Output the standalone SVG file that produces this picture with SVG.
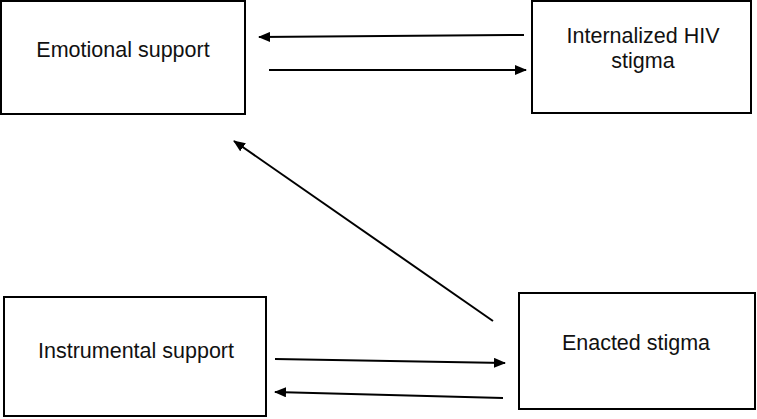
<svg xmlns="http://www.w3.org/2000/svg" width="757" height="419" viewBox="0 0 757 419">
<style>
.box{fill:#fff;stroke:#000;stroke-width:2}
.lbl{font-family:"Liberation Sans",Arial,sans-serif;font-size:21.5px;fill:#111;text-anchor:middle}
.arr{stroke:#000;stroke-width:2;fill:none;marker-end:url(#ah)}
</style>
<defs>
<marker id="ah" viewBox="0 0 12 10" refX="11" refY="5" markerWidth="12" markerHeight="10" markerUnits="userSpaceOnUse" orient="auto">
<path d="M0,0 L12,5 L0,10 Z" fill="#000"/>
</marker>
</defs>
<rect width="757" height="419" fill="#fff"/>
<g id="emotional">
<rect class="box" x="1" y="1" width="244" height="113"/>
<text class="lbl" x="123" y="57">Emotional support</text>
</g>
<g id="internalized">
<rect class="box" x="532" y="1" width="219" height="112"/>
<text class="lbl" x="643" y="43">Internalized HIV</text>
<text class="lbl" x="643" y="68">stigma</text>
</g>
<g id="instrumental">
<rect class="box" x="4" y="297" width="262" height="119"/>
<text class="lbl" x="136" y="358">Instrumental support</text>
</g>
<g id="enacted">
<rect class="box" x="519" y="293" width="236" height="116"/>
<text class="lbl" x="636" y="350">Enacted stigma</text>
</g>
<g id="connectors">
<line class="arr" x1="524" y1="35" x2="259" y2="37"/>
<line class="arr" x1="269" y1="70" x2="526" y2="70"/>
<line class="arr" x1="493" y1="321" x2="234" y2="141"/>
<line class="arr" x1="275" y1="359" x2="505" y2="363"/>
<line class="arr" x1="503" y1="398" x2="275" y2="392"/>
</g>
</svg>
